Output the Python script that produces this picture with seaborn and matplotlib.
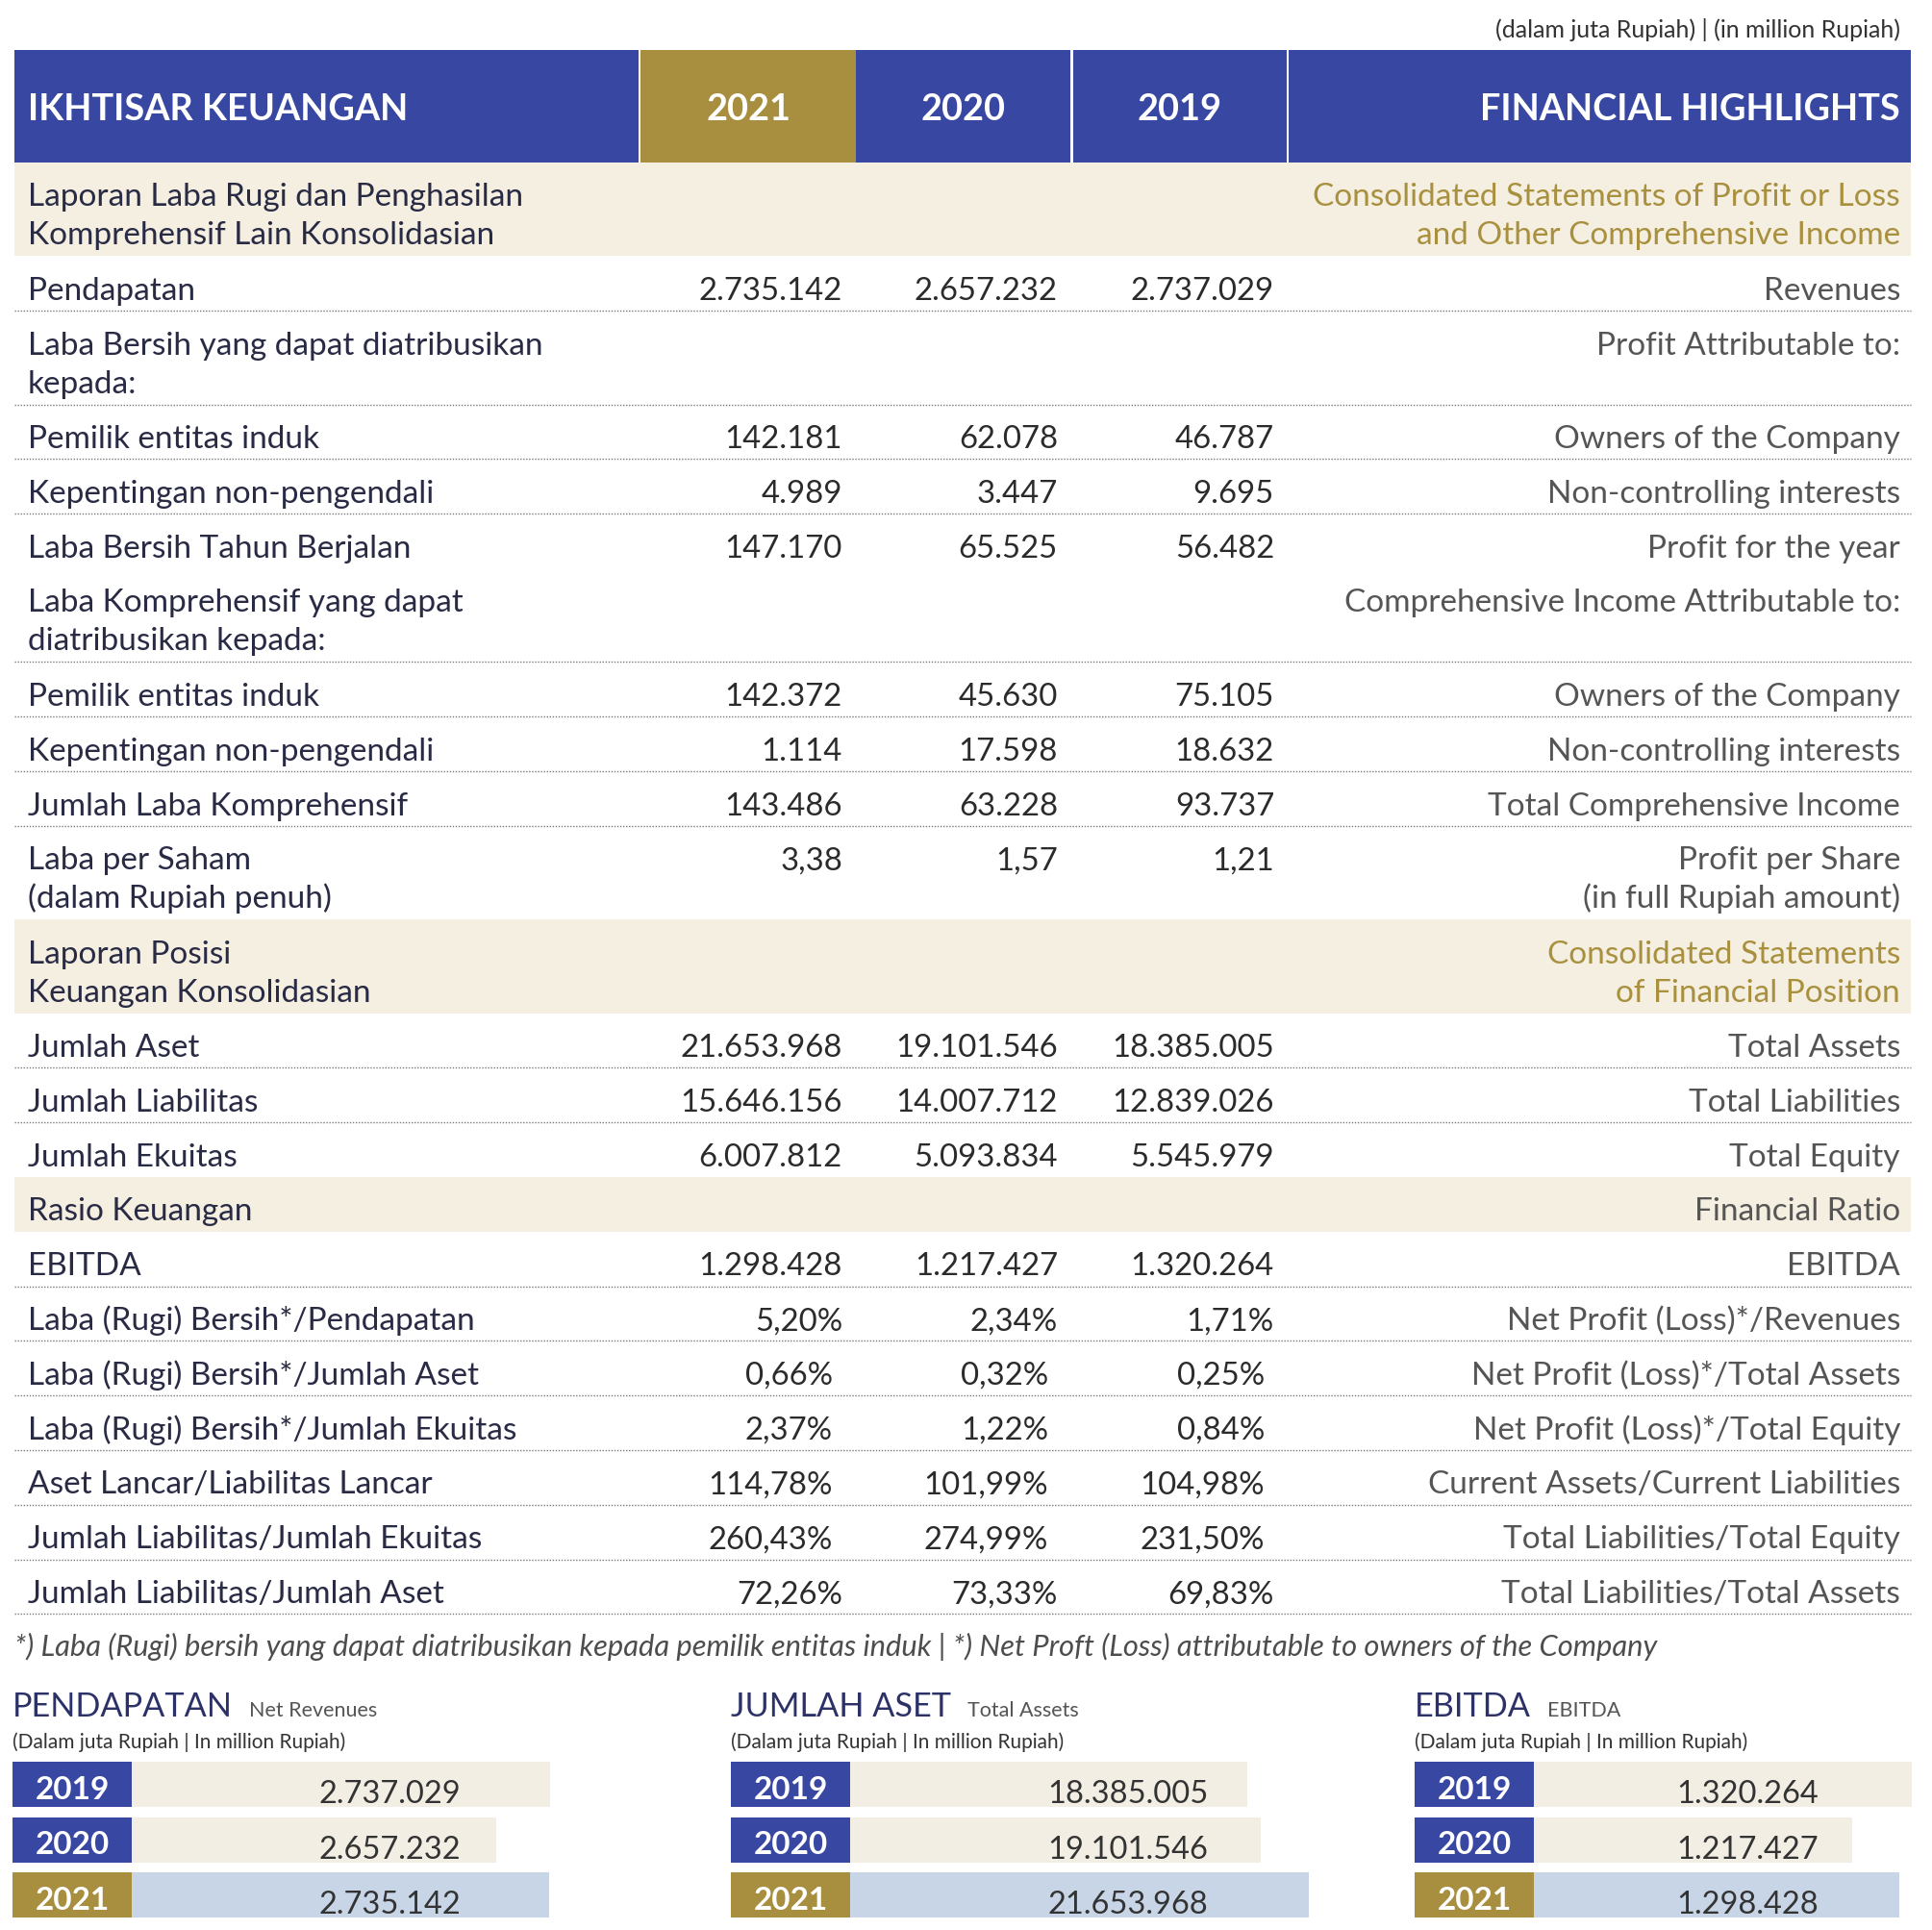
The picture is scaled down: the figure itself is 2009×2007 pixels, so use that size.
import matplotlib
matplotlib.use("Agg")
import matplotlib.pyplot as plt
import seaborn as sns
import pandas as pd
from matplotlib.patches import Rectangle
from matplotlib.transforms import blended_transform_factory

# ---------------- DATA ----------------
years_header = ["2021", "2020", "2019"]

label_id = [
    "Laporan Laba Rugi dan Penghasilan\nKomprehensif Lain Konsolidasian",
    "Pendapatan",
    "Laba Bersih yang dapat diatribusikan\nkepada:",
    "Pemilik entitas induk",
    "Kepentingan non-pengendali",
    "Laba Bersih Tahun Berjalan",
    "Laba Komprehensif yang dapat\ndiatribusikan kepada:",
    "Pemilik entitas induk",
    "Kepentingan non-pengendali",
    "Jumlah Laba Komprehensif",
    "Laba per Saham\n(dalam Rupiah penuh)",
    "Laporan Posisi\nKeuangan Konsolidasian",
    "Jumlah Aset",
    "Jumlah Liabilitas",
    "Jumlah Ekuitas",
    "Rasio Keuangan",
    "EBITDA",
    "Laba (Rugi) Bersih*/Pendapatan",
    "Laba (Rugi) Bersih*/Jumlah Aset",
    "Laba (Rugi) Bersih*/Jumlah Ekuitas",
    "Aset Lancar/Liabilitas Lancar",
    "Jumlah Liabilitas/Jumlah Ekuitas",
    "Jumlah Liabilitas/Jumlah Aset",
]
label_en = [
    "Consolidated Statements of Profit or Loss\nand Other Comprehensive Income",
    "Revenues",
    "Profit Attributable to:",
    "Owners of the Company",
    "Non-controlling interests",
    "Profit for the year",
    "Comprehensive Income Attributable to:",
    "Owners of the Company",
    "Non-controlling interests",
    "Total Comprehensive Income",
    "Profit per Share\n(in full Rupiah amount)",
    "Consolidated Statements\nof Financial Position",
    "Total Assets",
    "Total Liabilities",
    "Total Equity",
    "Financial Ratio",
    "EBITDA",
    "Net Profit (Loss)*/Revenues",
    "Net Profit (Loss)*/Total Assets",
    "Net Profit (Loss)*/Total Equity",
    "Current Assets/Current Liabilities",
    "Total Liabilities/Total Equity",
    "Total Liabilities/Total Assets",
]
# row kind: band = section header band, row = data row
row_kind = ["band", "row", "row", "row", "row", "row", "row", "row", "row", "row", "row",
            "band", "row", "row", "row", "band", "row", "row", "row", "row", "row", "row", "row"]
# number format of the values in each row
row_fmt = [None, "int", None, "int", "int", "int", None, "int", "int", "int", "dec",
           None, "int", "int", "int", None, "int", "pct", "pct", "pct", "pct", "pct", "pct"]
# dotted rule under the row
row_rule = [False, True, True, True, True, False, True, True, True, True, False,
            False, True, True, False, False, True, True, True, True, True, True, True]

val_2021 = [None, 2735142, None, 142181, 4989, 147170, None, 142372, 1114, 143486, 3.38,
            None, 21653968, 15646156, 6007812, None, 1298428, 5.20, 0.66, 2.37, 114.78, 260.43, 72.26]
val_2020 = [None, 2657232, None, 62078, 3447, 65525, None, 45630, 17598, 63228, 1.57,
            None, 19101546, 14007712, 5093834, None, 1217427, 2.34, 0.32, 1.22, 101.99, 274.99, 73.33]
val_2019 = [None, 2737029, None, 46787, 9695, 56482, None, 75105, 18632, 93737, 1.21,
            None, 18385005, 12839026, 5545979, None, 1320264, 1.71, 0.25, 0.84, 104.98, 231.50, 69.83]

panel_titles = ["PENDAPATAN", "JUMLAH ASET", "EBITDA"]
panel_subtitles = ["Net Revenues", "Total Assets", "EBITDA"]
panel_unit = "(Dalam juta Rupiah | In million Rupiah)"
bar_years = ["2019", "2020", "2021"]
revenue_vals = [2737029, 2657232, 2735142]
assets_vals = [18385005, 19101546, 21653968]
ebitda_vals = [1320264, 1217427, 1298428]

# ---------------- STYLE ----------------
BLUE = "#3848A2"
GOLD = "#A88F3F"
BEIGE = "#F5EFE1"
LIGHTBLUE = "#C3D4EC"
NAVY = "#292B45"
GOLD_TXT = "#A8903F"
GRAY = "#555555"
VAL = "#2B2B2B"
TITLE_NAVY = "#2C3268"

sns.set_theme(style="white")
plt.rcParams['font.family'] = ['Lato', 'DejaVu Sans']

W, H = 2009, 2007
fig = plt.figure(figsize=(W / 100, H / 100), dpi=100)
ax = fig.add_axes([0, 0, 1, 1])
ax.set_xlim(0, W)
ax.set_ylim(H, 0)
ax.axis("off")

FS = 24
FSV = 23.7
X0, X1 = 15, 1987
LX, RX = 29, 1976
VAL_RIGHT = [876, 1100, 1325]
SHIFTED = {18, 19, 20, 21}   # rows whose ratio figures sit slightly left
GOLD_BANDS = {0, 11}          # bands whose English title is gold

def fmt(v, kind):
    if v is None:
        return ""
    if kind == "int":
        return f"{v:,.0f}".replace(",", ".")
    s = f"{v:.2f}".replace(".", ",")
    return s + "%" if kind == "pct" else s

# top note
ax.text(RX, 39, "(dalam juta Rupiah) | (in million Rupiah)", ha="right", va="baseline",
        fontsize=18, color="#333333")

# header
HT, HB = 52, 169
cols = [(X0, 664, BLUE), (666, 890, GOLD), (890, 1113, BLUE), (1115.5, 1337.5, BLUE), (1340, X1, BLUE)]
for a, b, c in cols:
    ax.add_patch(Rectangle((a, HT), b - a, HB - HT, color=c, lw=0))
ax.text(LX, 125, "IKHTISAR KEUANGAN", ha="left", va="baseline", fontsize=27.3,
        fontweight="bold", color="white")
for (a, b, c), yr in zip(cols[1:4], years_header):
    ax.text((a + b) / 2, 125, yr, ha="center", va="baseline", fontsize=27.3,
            fontweight="bold", color="white")
ax.text(RX, 125, "FINANCIAL HIGHLIGHTS", ha="right", va="baseline", fontsize=27.3,
        fontweight="bold", color="white")

# table rows
H1, H2 = 56.8, 97.4
y = HB
for i in range(len(label_id)):
    lines_l = label_id[i].split("\n")
    lines_r = label_en[i].split("\n")
    n = max(len(lines_l), len(lines_r))
    h = H2 if n == 2 else H1
    band = row_kind[i] == "band"
    if band:
        ax.add_patch(Rectangle((X0, y), X1 - X0, h, color=BEIGE, lw=0))
    for j, t in enumerate(lines_l):
        ax.text(LX, y + 45.5 + 40 * j, t, ha="left", va="baseline", fontsize=FS, color=NAVY)
    for j, t in enumerate(lines_r):
        ax.text(RX, y + 45.5 + 40 * j, t, ha="right", va="baseline", fontsize=FS,
                color=GOLD_TXT if i in GOLD_BANDS else GRAY)
    shift = 10 if i in SHIFTED else 0
    for xr, vals in zip(VAL_RIGHT, [val_2021, val_2020, val_2019]):
        ax.text(xr - shift, y + 45.5, fmt(vals[i], row_fmt[i]), ha="right", va="baseline",
                fontsize=FSV, color=VAL)
    y += h
    if row_rule[i]:
        ax.plot([X0, X1], [y, y], color="#7a7a7a", lw=1.0, ls=(0, (1, 1.2)))

# footnote
ax.text(X0, 1722, "*) Laba (Rugi) bersih yang dapat diatribusikan kepada pemilik entitas induk | "
        "*) Net Proft (Loss) attributable to owners of the Company",
        ha="left", va="baseline", fontsize=22.2, style="italic", color="#4d4d4d")

# ---------------- bottom bar panels ----------------
panel_left = [13, 760, 1471]
panel_width = [620, 620, 530]
box_w = 124
axis_start = [1943200, -8706000, 464700]
px_per_unit = [0.000704, 0.00001981, 0.000604]
label_cx = [405, 1173, 1817]
palette = {"2019": BEIGE, "2020": BEIGE, "2021": LIGHTBLUE}
box_col = {"2019": BLUE, "2020": BLUE, "2021": GOLD}

fig.canvas.draw()
renderer = fig.canvas.get_renderer()

for k, vals in enumerate([revenue_vals, assets_vals, ebitda_vals]):
    left = panel_left[k]
    wpx = panel_width[k]
    t = ax.text(left, 1785, panel_titles[k], ha="left", va="baseline", fontsize=24.7,
                color=TITLE_NAVY)
    bb = t.get_window_extent(renderer=renderer)
    ax.text(bb.x1 + 17, 1785, panel_subtitles[k], ha="left", va="baseline", fontsize=15.5,
            color=GRAY)
    ax.text(left, 1818, panel_unit, ha="left", va="baseline", fontsize=15, color="#333333")

    top, bottom = 1827.0, 1999.5
    bax = fig.add_axes([left / W, 1 - bottom / H, wpx / W, (bottom - top) / H])
    df = pd.DataFrame({"year": bar_years, "value": vals})
    sns.barplot(data=df, x="value", y="year", hue="year", palette=palette, order=bar_years,
                hue_order=bar_years, orient="h", width=0.826, linewidth=0, legend=False,
                ax=bax)
    v0 = axis_start[k]
    bax.set_xlim(v0, v0 + wpx / px_per_unit[k])
    bax.set_ylim(2.5, -0.5)
    for p in bax.patches:
        w = p.get_width()
        p.set_x(v0)
        p.set_width(w - v0)
    bax.axis("off")
    tr = blended_transform_factory(bax.transAxes, bax.transData)
    for i, yr in enumerate(bar_years):
        bax.add_patch(Rectangle((0, i - 0.413), box_w / wpx, 0.826, transform=tr,
                                color=box_col[yr], lw=0, zorder=3))
        bax.text(box_w / 2 / wpx, i + 0.265, yr, transform=tr, ha="center", va="baseline",
                 fontsize=24, fontweight="bold", color="white", zorder=4)
        bax.text((label_cx[k] - left) / wpx, i + 0.335, fmt(vals[i], "int"), transform=tr,
                 ha="center", va="baseline", fontsize=23.5, color="#333333", zorder=4)

fig.savefig("out.png", dpi=100)
